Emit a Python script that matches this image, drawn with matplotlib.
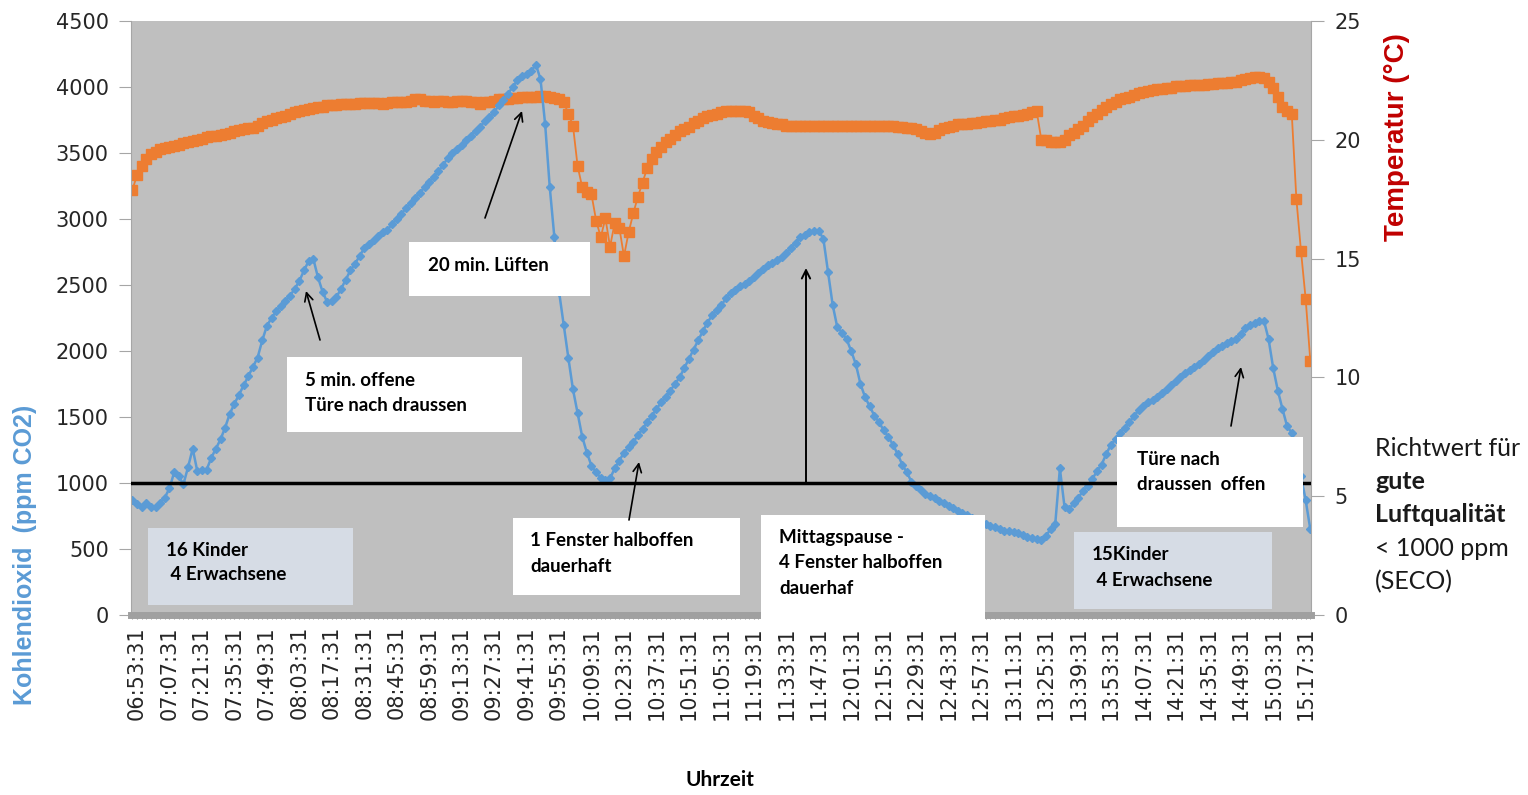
import numpy as np
import matplotlib
matplotlib.use('Agg')
import matplotlib.pyplot as plt
from matplotlib.patches import Rectangle

# minutes after 06:53:31, one reading every 2 minutes
minutes = np.arange(-2, 507, 2)

co2 = [
    870, 840, 815, 850, 820, 815, 850, 890, 960, 1080,
    1050, 990, 1120, 1260, 1090, 1095, 1100, 1190, 1260, 1330,
    1420, 1525, 1600, 1670, 1740, 1810, 1880, 1950, 2080, 2190,
    2250, 2300, 2340, 2380, 2420, 2470, 2530, 2610, 2680, 2700,
    2560, 2450, 2370, 2380, 2410, 2470, 2540, 2610, 2660, 2720,
    2780, 2810, 2840, 2870, 2900, 2920, 2960, 3000, 3040, 3080,
    3120, 3160, 3200, 3240, 3280, 3320, 3360, 3410, 3460, 3500,
    3530, 3560, 3600, 3630, 3670, 3700, 3740, 3770, 3810, 3860,
    3900, 3950, 4000, 4050, 4080, 4100, 4120, 4170, 4060, 3720,
    3240, 2860, 2450, 2200, 1950, 1710, 1530, 1350, 1230, 1130,
    1080, 1040, 1020, 1035, 1110, 1170, 1230, 1270, 1310, 1360,
    1410, 1460, 1510, 1560, 1610, 1650, 1700, 1750, 1800, 1870,
    1940, 2010, 2080, 2150, 2215, 2270, 2310, 2345, 2400, 2440,
    2460, 2490, 2510, 2530, 2560, 2590, 2620, 2650, 2670, 2690,
    2710, 2740, 2780, 2820, 2860, 2880, 2900, 2910, 2910, 2850,
    2600, 2350, 2180, 2140, 2090, 2000, 1900, 1750, 1650, 1580,
    1510, 1460, 1400, 1350, 1290, 1220, 1140, 1080, 1010, 980,
    950, 920, 900, 885, 865, 845, 825, 810, 790, 770,
    755, 735, 720, 705, 690, 675, 665, 650, 640, 635,
    628, 620, 605, 590, 585, 578, 570, 600, 650, 690,
    1110, 820, 800, 850, 890, 940, 980, 1030, 1090, 1140,
    1220, 1290, 1330, 1380, 1420, 1460, 1510, 1550, 1580, 1610,
    1630, 1655, 1680, 1710, 1740, 1775, 1800, 1830, 1855, 1880,
    1905, 1930, 1960, 1990, 2020, 2040, 2060, 2075, 2090, 2130,
    2175, 2200, 2215, 2225, 2230, 2090, 1870, 1700, 1560, 1430,
    1380, 1250, 1050, 870, 650,
]

temp = [
    17.9, 18.5, 18.9, 19.2, 19.4, 19.5, 19.6, 19.65, 19.7, 19.75,
    19.8, 19.85, 19.9, 19.95, 20.0, 20.05, 20.1, 20.15, 20.15, 20.2,
    20.25, 20.3, 20.35, 20.4, 20.45, 20.5, 20.5, 20.6, 20.7, 20.8,
    20.85, 20.9, 20.95, 21.0, 21.1, 21.15, 21.2, 21.25, 21.3, 21.35,
    21.4, 21.4, 21.45, 21.45, 21.45, 21.5, 21.5, 21.5, 21.5, 21.55,
    21.55, 21.55, 21.55, 21.55, 21.5, 21.55, 21.6, 21.6, 21.6, 21.6,
    21.65, 21.7, 21.7, 21.65, 21.65, 21.6, 21.65, 21.65, 21.6, 21.6,
    21.65, 21.65, 21.65, 21.6, 21.6, 21.5, 21.6, 21.6, 21.65, 21.7,
    21.7, 21.7, 21.75, 21.75, 21.8, 21.8, 21.8, 21.8, 21.85, 21.85,
    21.8, 21.75, 21.7, 21.6, 21.1, 20.6, 18.9, 18.0, 17.8, 17.7,
    16.6, 15.9, 16.7, 15.5, 16.5, 16.3, 15.1, 16.1, 16.9, 17.6,
    18.2, 18.8, 19.2, 19.5, 19.7, 19.9, 20.05, 20.2, 20.35, 20.45,
    20.55, 20.7, 20.8, 20.9, 21.0, 21.05, 21.1, 21.15, 21.2, 21.2,
    21.2, 21.2, 21.2, 21.15, 21.0, 20.9, 20.8, 20.75, 20.7, 20.65,
    20.65, 20.6, 20.6, 20.6, 20.6, 20.6, 20.6, 20.6, 20.6, 20.6,
    20.6, 20.6, 20.6, 20.6, 20.6, 20.6, 20.6, 20.6, 20.6, 20.6,
    20.6, 20.6, 20.6, 20.6, 20.6, 20.55, 20.55, 20.5, 20.5, 20.45,
    20.35, 20.3, 20.25, 20.3, 20.4, 20.5, 20.55, 20.6, 20.65, 20.65,
    20.65, 20.7, 20.7, 20.75, 20.8, 20.8, 20.85, 20.85, 20.9, 20.95,
    21.0, 21.0, 21.05, 21.1, 21.15, 21.2, 20.0, 20.0, 19.9, 19.9,
    19.9, 20.0, 20.2, 20.3, 20.45, 20.6, 20.8, 20.95, 21.1, 21.25,
    21.4, 21.5, 21.6, 21.7, 21.75, 21.8, 21.9, 21.95, 22.0, 22.05,
    22.1, 22.15, 22.15, 22.2, 22.2, 22.25, 22.25, 22.25, 22.3, 22.3,
    22.3, 22.3, 22.35, 22.35, 22.4, 22.4, 22.4, 22.45, 22.45, 22.5,
    22.55, 22.6, 22.65, 22.65, 22.6, 22.45, 22.2, 21.8, 21.4, 21.2,
    21.1, 17.5, 15.3, 13.3, 10.7,
]

tick_minutes = np.arange(0, 505, 14)
tick_labels = [
    '06:53:31', '07:07:31', '07:21:31', '07:35:31', '07:49:31', '08:03:31',
    '08:17:31', '08:31:31', '08:45:31', '08:59:31', '09:13:31', '09:27:31',
    '09:41:31', '09:55:31', '10:09:31', '10:23:31', '10:37:31', '10:51:31',
    '11:05:31', '11:19:31', '11:33:31', '11:47:31', '12:01:31', '12:15:31',
    '12:29:31', '12:43:31', '12:57:31', '13:11:31', '13:25:31', '13:39:31',
    '13:53:31', '14:07:31', '14:21:31', '14:35:31', '14:49:31', '15:03:31',
    '15:17:31',
]
co2_ticks = list(range(0, 4501, 500))
temp_ticks = [0, 5, 10, 15, 20, 25]
limit_ppm = 1000

BLUE = '#5b9bd5'
ORANGE = '#ed7d31'
NOTE_FONT = ['Lato', 'DejaVu Sans']

W, H = 1528, 795
fig = plt.figure(figsize=(W / 100, H / 100), dpi=100)
ax = fig.add_axes([131 / W, 1 - 615 / H, 1180 / W, 594 / H])
ax2 = ax.twinx()
# blue series and notes above the orange one
ax.set_zorder(ax2.get_zorder() + 1)
ax.patch.set_visible(False)
ax2.patch.set_visible(True)
ax2.patch.set_facecolor('#bfbfbf')

ax2.plot(minutes, temp, color=ORANGE, lw=1.3, marker='s', ms=6.5, mec=ORANGE)
ax.plot(minutes, co2, color=BLUE, lw=1.8, marker='D', ms=4, mec=BLUE)
ax.axhline(limit_ppm, color='black', lw=2.5, zorder=3)

ax.set_xlim(-2.6, 506.3)
ax.set_ylim(0, 4500)
ax2.set_ylim(0, 25)

ax.set_xticks(tick_minutes)
ax.set_xticklabels(tick_labels, rotation=90, fontsize=15, color='#262626')
ax.set_xticks(minutes, minor=True)
ax.tick_params(axis='x', which='both', length=3, color='#8c8c8c', pad=5)
ax.set_yticks(co2_ticks)
ax.tick_params(axis='y', length=9, color='#a6a6a6', labelsize=15, pad=7,
               labelcolor='#262626')
ax2.set_yticks(temp_ticks)
ax2.tick_params(axis='y', length=9, color='#a6a6a6', labelsize=15, pad=8,
                labelcolor='#262626')

for s in ax2.spines.values():
    s.set_visible(False)
ax.spines['top'].set_visible(False)
ax.spines['left'].set_color('#a6a6a6')
ax.spines['right'].set_color('#a6a6a6')
ax.spines['bottom'].set_color('#a0a0a0')
ax.spines['bottom'].set_linewidth(5)


def px(x, y):
    # pixel position of the reference picture -> axes fraction
    return (x - 131) / 1180, (615 - y) / 594


def note(x0, y0, x1, y1, lines, tx, ty, color='white'):
    ax.add_patch(Rectangle(px(x0, y1), (x1 - x0) / 1180, (y1 - y0) / 594,
                           transform=ax.transAxes, facecolor=color,
                           edgecolor='none', zorder=5, clip_on=False))
    for i, line in enumerate(lines):
        ax.text(*px(tx, ty + 25 * i), line, transform=ax.transAxes,
                fontsize=13.5, fontweight='bold', family=NOTE_FONT,
                ha='left', va='center', zorder=6)


def arrow(tail, head, lw=1.2):
    ax.annotate('', xy=px(*head), xytext=px(*tail), xycoords='axes fraction',
                textcoords='axes fraction', zorder=6,
                arrowprops=dict(arrowstyle='->,head_length=0.6,head_width=0.3',
                                color='black', lw=lw, shrinkA=0, shrinkB=0))


note(409, 242, 590, 296, ['20 min. Lüften'], 428, 265)
note(287, 357, 522, 432, ['5 min. offene', 'Türe nach draussen'], 305, 380)
note(148, 528, 353, 605, ['16 Kinder', ' 4 Erwachsene'], 166, 550, '#d6dce5')
note(513, 518, 740, 595, ['1 Fenster halboffen', 'dauerhaft'], 530, 541)
note(761, 515, 985, 625, ['Mittagspause -', '4 Fenster halboffen', 'dauerhaf'],
     779, 538)
note(1117, 437, 1303, 527, ['Türe nach', 'draussen  offen'], 1137, 459)
note(1074, 532, 1272, 609, ['15Kinder', ' 4 Erwachsene'], 1092, 555, '#d6dce5')

arrow((320, 340), (306, 291))
arrow((485, 218), (522, 111))
arrow((629, 520), (639, 462))
arrow((806, 483), (806, 268), lw=1.4)
arrow((1231, 426), (1241, 367))

fig.text(25 / W, 1 - 555 / H, 'Kohlendioxid  (ppm CO2)', rotation=90,
         color=BLUE, fontsize=18, fontweight='bold',
         family=['Liberation Sans', 'DejaVu Sans'], ha='center', va='center')
fig.text(1397 / W, 1 - 137 / H, 'Temperatur (°C)', rotation=90,
         color='#c00000', fontsize=20, fontweight='bold',
         family=['Liberation Sans', 'DejaVu Sans'], ha='center', va='center')
fig.text(720 / W, 1 - 780 / H, 'Uhrzeit', fontsize=15, fontweight='bold',
         family=NOTE_FONT, ha='center', va='center')

side_note = [('Richtwert für', 'normal', 456), ('gute', 'bold', 489),
             ('Luftqualität', 'bold', 522), ('< 1000 ppm', 'normal', 556),
             ('(SECO)', 'normal', 589)]
for text, weight, base in side_note:
    fig.text(1375 / W, 1 - base / H, text, fontsize=18, fontweight=weight,
             family=NOTE_FONT, ha='left', va='baseline', color='#1a1a1a')

fig.savefig('out.png', dpi=100)
